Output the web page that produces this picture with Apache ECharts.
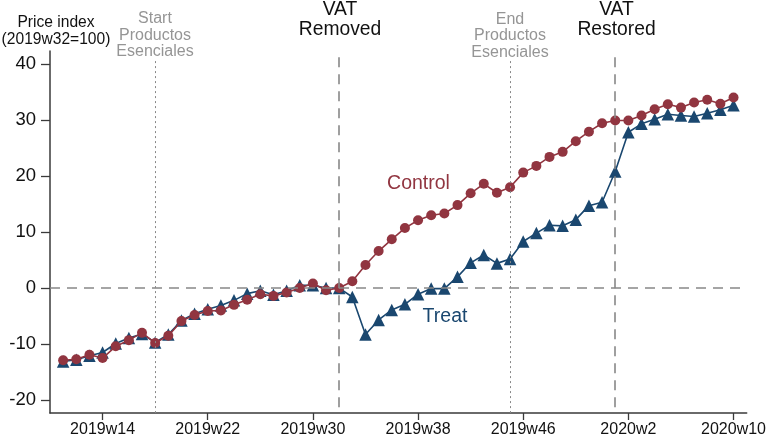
<!DOCTYPE html>
<html><head><meta charset="utf-8">
<script src="https://cdn.jsdelivr.net/npm/echarts@6/dist/echarts.min.js"></script>
<style>html,body{margin:0;padding:0;background:#fff}#c{width:769px;height:439px}</style>
</head><body><div id="c"></div>
<script>
var weeks = ['2019w11','2019w12','2019w13','2019w14','2019w15','2019w16','2019w17','2019w18','2019w19','2019w20',
'2019w21','2019w22','2019w23','2019w24','2019w25','2019w26','2019w27','2019w28','2019w29','2019w30',
'2019w31','2019w32','2019w33','2019w34','2019w35','2019w36','2019w37','2019w38','2019w39','2019w40',
'2019w41','2019w42','2019w43','2019w44','2019w45','2019w46','2019w47','2019w48','2019w49','2019w50',
'2019w51','2019w52','2020w1','2020w2','2020w3','2020w4','2020w5','2020w6','2020w7','2020w8','2020w9','2020w10'];
var control = [-12.9,-12.7,-11.9,-12.5,-10.4,-9.3,-8.0,-9.8,-8.5,-5.9,
-4.8,-4.1,-4.0,-3.0,-2.1,-1.1,-1.4,-0.8,0.0,0.8,
-0.4,0.0,1.2,4.1,6.6,8.7,10.7,12.1,13.0,13.3,
14.8,16.9,18.6,17.0,18.0,20.6,21.8,23.4,24.3,26.2,
27.9,29.4,29.9,29.9,30.8,31.9,32.8,32.2,33.1,33.6,32.9,34.0];
var treat = [-13.1,-12.8,-12.1,-11.5,-9.9,-8.9,-8.2,-9.7,-8.3,-5.8,
-4.6,-3.8,-3.1,-2.2,-1.0,-0.5,-1.2,-0.5,0.5,0.5,
0.0,0.0,-1.6,-8.3,-5.7,-3.9,-2.9,-1.1,-0.1,-0.1,
2.0,4.5,5.9,4.4,5.2,8.3,9.8,11.2,11.1,12.2,
14.7,15.3,20.8,27.8,29.3,30.1,31.0,30.8,30.6,31.2,31.8,32.6];
var xTickLabels = ['2019w14','2019w22','2019w30','2019w38','2019w46','2020w2','2020w10'];
var yTicks = [-20,-10,0,10,20,30,40];
var dottedEvents = ['2019w18','2019w45'];
var dashedEvents = ['2019w32','2020w1'];

var xMin = -1, xMax = weeks.length, yMin = -22.3, yMax = 42.3;
var xTicks = xTickLabels.map(function(l){return weeks.indexOf(l);});
var treatData = treat.map(function(v,i){return [i,v];});
var controlData = control.map(function(v,i){return [i,v];});
var ctrlColor = '#913540', trtColor = '#1a476f';
var fontF = 'Liberation Sans, Arial, sans-serif';

var vLines = [];
dottedEvents.forEach(function(w){
  var i = weeks.indexOf(w);
  vLines.push([{coord:[i,40.5],lineStyle:{type:[2,3],color:'#888',width:1}},{coord:[i,yMin]}]);
});
dashedEvents.forEach(function(w){
  var i = weeks.indexOf(w);
  vLines.push([{coord:[i,41.2],lineStyle:{type:[10,7],color:'#888',width:1.6}},{coord:[i,yMin]}]);
});

var chart = echarts.init(document.getElementById('c'));
chart.setOption({
  animation:false,
  backgroundColor:'#fff',
  grid:{left:50,right:18,top:51,bottom:26,containLabel:false},
  xAxis:{type:'value',min:xMin,max:xMax,
    axisLine:{show:true,onZero:false,lineStyle:{color:'#3a3a3a',width:1.5}},
    axisTick:{show:true,customValues:xTicks,length:7,lineStyle:{color:'#3a3a3a',width:1.3}},
    axisLabel:{customValues:xTicks,formatter:function(v){return weeks[v];},color:'#111',fontSize:16,fontFamily:fontF,margin:9},
    splitLine:{show:false}},
  yAxis:{type:'value',min:yMin,max:yMax,
    axisLine:{show:true,onZero:false,lineStyle:{color:'#3a3a3a',width:1.5}},
    axisTick:{show:true,customValues:yTicks,length:9,lineStyle:{color:'#3a3a3a',width:1.3}},
    axisLabel:{customValues:yTicks,color:'#111',fontSize:18.5,fontFamily:fontF,margin:14},
    splitLine:{show:false}},
  series:[
    {type:'line',data:treatData,symbol:'triangle',symbolSize:12.5,
     lineStyle:{color:trtColor,width:1.6},itemStyle:{color:trtColor},z:3,
     markLine:{silent:true,symbol:'none',label:{show:false},
       data:vLines.concat([{yAxis:0,lineStyle:{type:[10,7],color:'#888',width:1.6}}])}},
    {type:'line',data:controlData,symbol:'circle',symbolSize:10,
     lineStyle:{color:ctrlColor,width:1.6},itemStyle:{color:ctrlColor},z:4}
  ],
  graphic:[
    {type:'text',x:56,y:14,style:{text:'Price index\n(2019w32=100)',fill:'#111',font:'15.6px '+fontF,align:'center',lineHeight:17}},
    {type:'text',x:155,y:10.5,style:{text:'Start\nProductos\nEsenciales',fill:'#959595',font:'16px '+fontF,align:'center',lineHeight:16.5}},
    {type:'text',x:340,y:0,style:{text:'VAT\nRemoved',fill:'#111',font:'19.3px '+fontF,align:'center',lineHeight:19.5}},
    {type:'text',x:510,y:11,style:{text:'End\nProductos\nEsenciales',fill:'#959595',font:'16px '+fontF,align:'center',lineHeight:16.5}},
    {type:'text',x:616.5,y:0,style:{text:'VAT\nRestored',fill:'#111',font:'19.3px '+fontF,align:'center',lineHeight:19.5}},
    {type:'text',x:418.5,y:174,style:{text:'Control',fill:ctrlColor,font:'19.5px '+fontF,align:'center'}},
    {type:'text',x:445,y:307,style:{text:'Treat',fill:trtColor,font:'19.5px '+fontF,align:'center'}}
  ]
});
</script></body></html>
